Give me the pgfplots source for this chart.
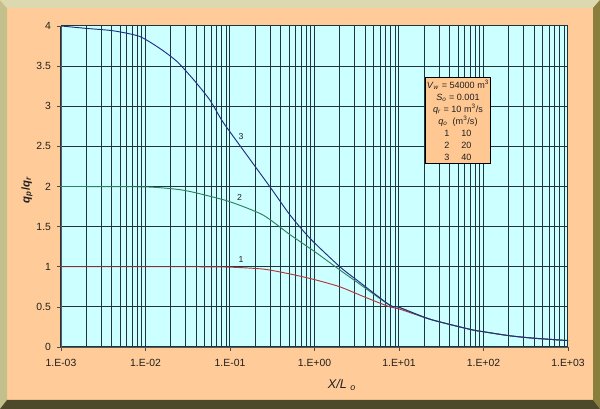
\documentclass[border=0pt]{standalone}
\usepackage{fontspec}
\setmainfont{Liberation Sans}
\usepackage{pgfplots}
\pgfplotsset{compat=1.18}
\definecolor{topb}{HTML}{DCD8B0}
\definecolor{leftb}{HTML}{C4C08C}
\definecolor{rightb}{HTML}{8A7E3C}
\definecolor{botb}{HTML}{4C4A2A}
\definecolor{peach}{HTML}{FFCC99}
\definecolor{boxfill}{HTML}{FFC893}
\definecolor{plotbg}{HTML}{CCFFFF}
\definecolor{gridc}{HTML}{203440}
\definecolor{cone}{HTML}{B03838}
\definecolor{ctwo}{HTML}{2E8060}
\definecolor{cthree}{HTML}{1F2F80}
\definecolor{txt}{HTML}{202020}
\begin{document}
\begin{tikzpicture}
\begin{scope}[x=0.75pt,y=0.75pt]
\fill[peach] (0,0) rectangle (600,409);
\fill[leftb] (0,0) -- (0,409) -- (7,401) -- (7,9) -- cycle;
\fill[topb] (0,409) -- (600,409) -- (593,401) -- (7,401) -- cycle;
\fill[rightb] (600,0) -- (600,409) -- (593,401) -- (593,9) -- cycle;
\fill[botb] (0,0) -- (600,0) -- (593,9) -- (7,9) -- cycle;
\end{scope}
\begin{axis}[
  at={(45.75pt,46.5pt)}, anchor=south west,
  scale only axis, width=380.25pt, height=240.75pt,
  xmode=log, xmin=1e-3, xmax=1e3, ymin=0, ymax=4,
  xtick={1e-3,1e-2,1e-1,1,10,100,1000},
  xticklabels={1.E-03,1.E-02,1.E-01,1.E+00,1.E+01,1.E+02,1.E+03},
  ytick={0,0.5,1,1.5,2,2.5,3,3.5,4},
  yticklabels={0,0.5,1,1.5,2,2.5,3,3.5,4},
  grid=both,
  major grid style={color=gridc, line width=0.75pt},
  minor grid style={color=gridc, line width=0.75pt},
  minor tick length=0pt,
  major tick length=3pt,
  tick align=outside, tick pos=left,
  axis line style={draw=gray!70!black, line width=0.5pt},
  axis lines*=left,
  tick style={color=gray!60!black, line width=0.5pt},
  axis background/.style={fill=plotbg},
  tick label style={font=\fontsize{7.8}{9}\selectfont, text=txt},
  /pgf/number format/assume math mode=true,
  xticklabel style={yshift=-3pt},
  yticklabel style={xshift=-1pt},
  xlabel={\textit{X/L} \textsubscript{\textit{o}}},
  x label style={at={(axis description cs:0.554,-0.118)}, anchor=center, font=\fontsize{9.5}{11}\selectfont, text=txt},
  ylabel={\textbf{\textit{q}\textsubscript{\textit{p}}/\textit{q}\textsubscript{\textit{r}}}},
  y label style={at={(axis description cs:-0.067,0.489)}, anchor=center, font=\fontsize{8.5}{10}\selectfont, text=txt},
  clip=false,
]
% curve 1
\addplot[color=cone, line width=0.7pt, smooth, tension=0.4] coordinates {
(0.001,1.0) (0.0316,1.0) (0.1,0.995) (0.2512,0.97) (0.5129,0.91) (1,0.84)
(1.995,0.75) (3.981,0.62) (7.762,0.50) (10,0.475) (23.44,0.345)
(69.18,0.22) (100,0.19) (204.2,0.14) (389,0.11) (1000,0.08)};
% curve 2
\addplot[color=ctwo, line width=0.7pt, smooth, tension=0.4] coordinates {
(0.001,2.0) (0.01,1.995) (0.0257,1.96) (0.0437,1.91) (0.1,1.81) (0.2455,1.645)
(0.5129,1.40) (1,1.19) (1.995,0.96) (3.162,0.81) (7.762,0.52) (10,0.495)
(23.44,0.345) (69.18,0.22) (100,0.19) (204.2,0.14) (389,0.11) (1000,0.08)};
% curve 3
\addplot[color=cthree, line width=0.7pt, smooth, tension=0.4] coordinates {
(0.001,4.0) (0.002,3.97) (0.00417,3.94) (0.00851,3.87) (0.01479,3.72)
(0.02344,3.56) (0.03715,3.33) (0.05754,3.08) (0.07943,2.83) (0.1,2.68)
(0.2951,2.0) (0.5129,1.645) (0.8913,1.35) (1.995,1.0) (3.162,0.835)
(7.762,0.523) (10,0.495) (23.44,0.345) (69.18,0.22) (100,0.19)
(204.2,0.14) (389,0.11) (1000,0.08)};
\node[font=\fontsize{6.5}{8}\selectfont, text=txt] at (axis cs:0.135,1.084) {1};
\node[font=\fontsize{6.5}{8}\selectfont, text=txt] at (axis cs:0.13,1.857) {2};
\node[font=\fontsize{6.5}{8}\selectfont, text=txt] at (axis cs:0.135,2.617) {3};
\node[draw=black, line width=0.5pt, fill=boxfill, minimum width=48pt, minimum height=64.5pt,
      inner sep=1pt, align=center, font=\fontsize{6.8}{9}\selectfont, text=txt]
  at (rel axis cs:0.783,0.707) {%
  \textit{V}\textsubscript{\textit{w}} = 54000 m\textsuperscript{3}\\
  \textit{S}\textsubscript{\textit{o}} = 0.001\\
  \textit{q}\textsubscript{\textit{r}} = 10 m\textsuperscript{3}/s\\
  \textit{q}\textsubscript{\textit{o}}\ \ (m\textsuperscript{3}/s)\\
  1\hspace{9pt}10\\
  2\hspace{9pt}20\\
  3\hspace{9pt}40};
\end{axis}
\pgfresetboundingbox
\path (0,0) rectangle (450pt,306.75pt);
\end{tikzpicture}
\end{document}
